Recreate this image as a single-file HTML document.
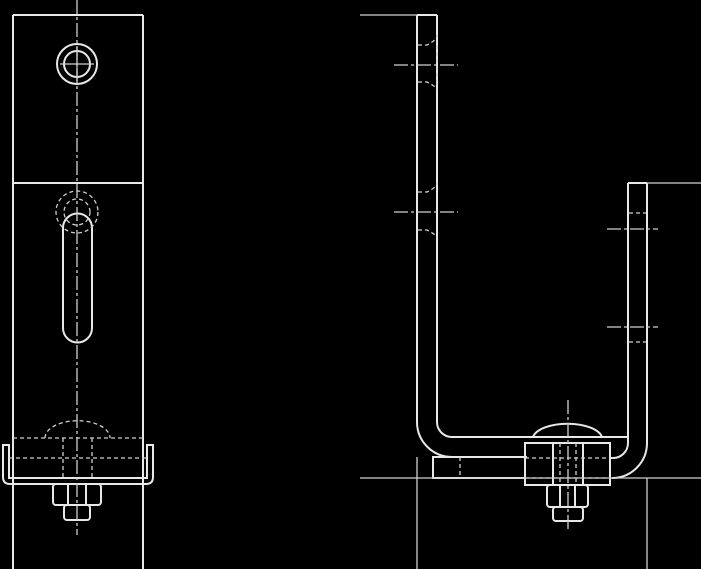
<!DOCTYPE html>
<html><head><style>html,body{margin:0;padding:0;background:#000;}svg{display:block}</style></head>
<body>
<svg width="701" height="569" viewBox="0 0 701 569" xmlns="http://www.w3.org/2000/svg">
<rect width="701" height="569" fill="#000"/>
<g fill="none" stroke="#e8e8e8" stroke-width="2">
<!-- LEFT VIEW -->
<line x1="13" y1="15" x2="13" y2="569"/>
<line x1="143" y1="15" x2="143" y2="569"/>
<line x1="13" y1="15" x2="143" y2="15"/>
<line x1="13" y1="183" x2="143" y2="183"/>
<circle cx="77" cy="64" r="20"/>
<circle cx="77" cy="64" r="13"/>
<path d="M63 228 A14.5 14.5 0 0 1 92 228 L92 328 A14.5 14.5 0 0 1 63 328 Z"/>
<!-- channel -->
<path d="M3 445 L3 477 Q3 484 10 484 L146 484 Q153 484 153 477 L153 445 L147 445 L147 478 L9 478 L9 445 Z"/>
<!-- nut -->
<rect x="53" y="484" width="48" height="21" rx="3"/>
<line x1="68" y1="484" x2="68" y2="505"/>
<line x1="86" y1="484" x2="86" y2="505"/>
<rect x="64" y="505" width="26" height="15" rx="3"/>
<!-- RIGHT VIEW -->
<path d="M417 15 L417 422 A35 35 0 0 0 452 457 L527 457"/>
<path d="M437 15 L437 422 A15 15 0 0 0 452 437 L533 437"/>
<line x1="417" y1="15" x2="437" y2="15"/>
<path d="M647 183 L647 443 A35 35 0 0 1 612 478"/>
<path d="M628 183 L628 443 A15 15 0 0 1 613 458 L610 458"/>
<line x1="628" y1="183" x2="647" y2="183"/>
<rect x="433" y="457" width="92" height="21"/>
<rect x="525" y="443" width="85" height="42"/>
<path d="M533 437 A35 16 0 0 1 602 437 Z"/>
<line x1="602" y1="437" x2="628" y2="437"/>
<rect x="547" y="485" width="41" height="22" rx="3"/>
<line x1="560" y1="485" x2="560" y2="507"/>
<line x1="575" y1="485" x2="575" y2="507"/>
<rect x="553" y="507" width="30" height="14" rx="3"/>
<line x1="553" y1="443" x2="553" y2="485"/>
<line x1="583" y1="443" x2="583" y2="485"/>
</g>
<g fill="none" stroke="#d0d0d0" stroke-width="1.3">
<!-- thin construction lines -->
<line x1="360" y1="15" x2="417" y2="15"/>
<line x1="417" y1="457" x2="417" y2="569"/>
<line x1="647" y1="478" x2="647" y2="569"/>
<line x1="647" y1="183" x2="701" y2="183"/>
<line x1="360" y1="478" x2="701" y2="478"/>
<line x1="394" y1="65" x2="458" y2="65" stroke-dasharray="14 3 3 3"/>
<line x1="394" y1="212" x2="458" y2="212" stroke-dasharray="14 3 3 3"/>
<line x1="607" y1="229" x2="658" y2="229" stroke-dasharray="14 3 3 3"/>
<line x1="607" y1="327" x2="658" y2="327" stroke-dasharray="14 3 3 3"/>
<line x1="568" y1="400" x2="568" y2="530" stroke-dasharray="14 3 3 3"/>
<line x1="77" y1="0" x2="77" y2="535" stroke-dasharray="14 3 3 3"/>
<line x1="77" y1="47" x2="77" y2="81"/>
<line x1="60" y1="64" x2="94" y2="64"/>
</g>
<g fill="none" stroke="#cfcfcf" stroke-width="1.3" stroke-dasharray="4 3">
<circle cx="77" cy="212" r="21"/>
<circle cx="77" cy="212" r="13"/>
<path d="M45 438 A32 17 0 0 1 110 438"/>
<line x1="13" y1="438" x2="143" y2="438"/>
<line x1="9" y1="458" x2="147" y2="458"/>
<line x1="63" y1="438" x2="63" y2="478"/>
<line x1="92" y1="438" x2="92" y2="478"/>
<line x1="437" y1="45" x2="437" y2="85"/>
<path d="M418 45 L427 45 Q437 40 437 35"/>
<path d="M418 82 L427 82 Q437 87 437 90"/>
<path d="M418 192 L427 192 Q437 187 437 183"/>
<path d="M418 230 L427 230 Q437 235 437 238"/>
<line x1="629" y1="213" x2="646" y2="213"/>
<line x1="629" y1="342" x2="646" y2="342"/>
<line x1="525" y1="458" x2="610" y2="458"/>
<line x1="525" y1="478" x2="610" y2="478"/>
<line x1="460" y1="457" x2="460" y2="478"/>
<line x1="560" y1="443" x2="560" y2="485"/>
<line x1="576" y1="443" x2="576" y2="485"/>
</g>
</svg>
</body></html>
